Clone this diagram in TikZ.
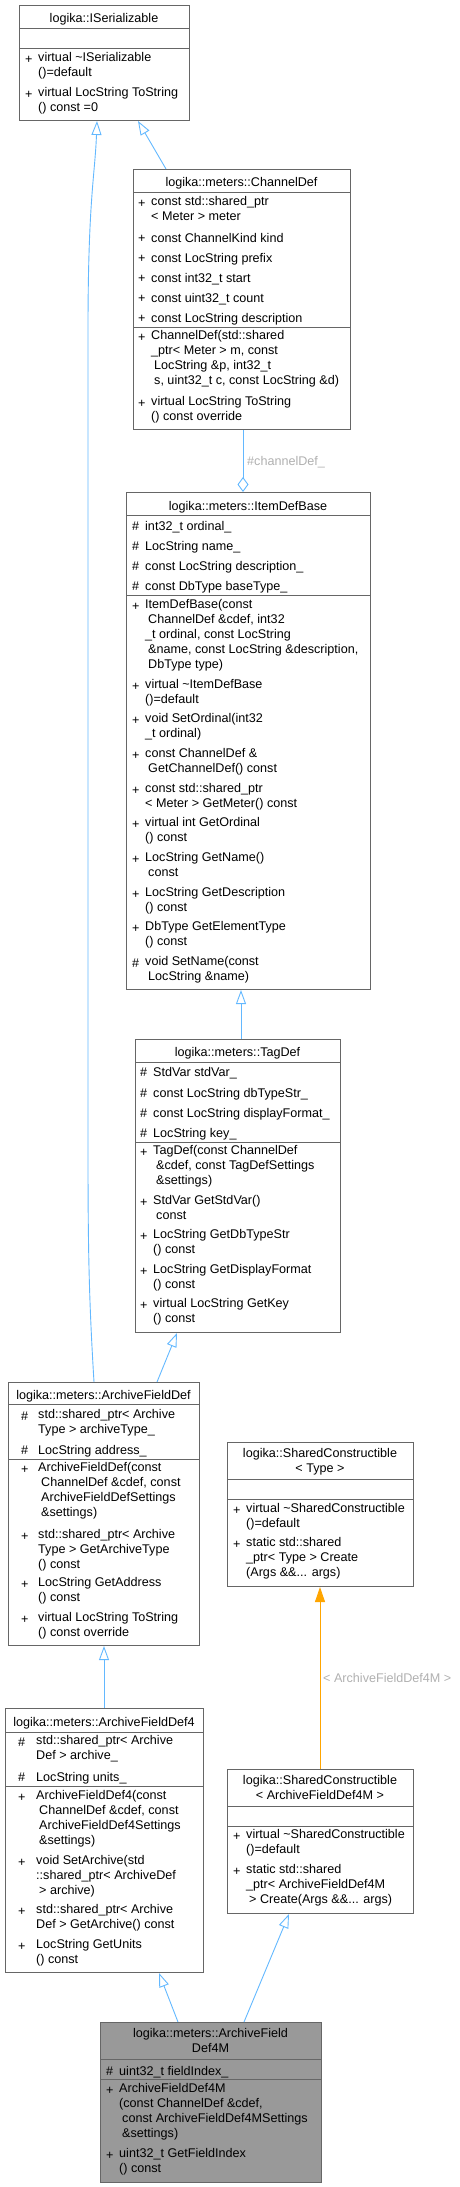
\documentclass[tikz,border=0pt]{standalone}
\usepackage{fontspec}
\setmainfont{Liberation Sans}
\usetikzlibrary{arrows.meta}
\definecolor{edgeblue}{HTML}{63B8FF}
\definecolor{boxgray}{HTML}{666666}
\definecolor{lblgray}{HTML}{B0B0B0}
\definecolor{tmplorange}{HTML}{FFA500}
\definecolor{leaffill}{HTML}{999999}
\begin{document}
\begin{tikzpicture}[x=1pt,y=-1pt,
  every node/.style={font=\fontsize{12.6}{15}\selectfont,inner sep=0pt},
  cls/.style={draw=boxgray,line width=1pt,fill=white,anchor=north west},
  title/.style={anchor=north,align=center,yshift=6.5pt,execute at begin node=\strut},
  mem/.style={anchor=north west,align=left,yshift=6.5pt,execute at begin node=\strut},
  sepline/.style={draw=boxgray,line width=1pt},
  inh/.style={draw=edgeblue,line width=0.9pt,-{Triangle[open,length=14pt,width=10pt]}},
  agg/.style={draw=edgeblue,line width=0.9pt,-{Diamond[open,length=15pt,width=11pt]}},
  tmpl/.style={draw=tmplorange,line width=0.9pt,-{Triangle[length=15pt,width=10pt]}},
  lbl/.style={anchor=west,text=lblgray}]
  \useasboundingbox (0,0) rectangle (460,2187);
  \node[cls,minimum width=170pt,minimum height=115pt] (iser) at (19,5) {};
  \node[cls,minimum width=217pt,minimum height=260pt] (chdef) at (133,169) {};
  \node[cls,minimum width=244pt,minimum height=497pt] (itemdef) at (126,492) {};
  \node[cls,minimum width=205pt,minimum height=293pt] (tagdef) at (135,1039) {};
  \node[cls,minimum width=191pt,minimum height=263pt] (afd) at (8,1382) {};
  \node[cls,minimum width=198pt,minimum height=264pt] (afd4) at (5,1708) {};
  \node[cls,minimum width=186pt,minimum height=144pt] (sct) at (227,1442) {};
  \node[cls,minimum width=186pt,minimum height=144pt] (scm) at (227,1769) {};
  \node[cls,fill=leaffill,minimum width=221pt,minimum height=160pt] (leaf) at (100,2022) {};
  \draw[sepline] (19,28) -- (189,28) (19,48) -- (189,48);
  \draw[sepline] (133,192) -- (350,192) (133,327) -- (350,327);
  \draw[sepline] (126,515) -- (370,515) (126,595) -- (370,595);
  \draw[sepline] (135,1062) -- (340,1062) (135,1142) -- (340,1142);
  \draw[sepline] (8,1404) -- (199,1404) (8,1459) -- (199,1459);
  \draw[sepline] (5,1732) -- (203,1732) (5,1786) -- (203,1786);
  \draw[sepline] (227,1479) -- (413,1479) (227,1499) -- (413,1499);
  \draw[sepline] (227,1806) -- (413,1806) (227,1826) -- (413,1826);
  \draw[sepline] (100,2059) -- (321,2059) (100,2079) -- (321,2079);
  \draw[inh] ([xshift=33pt]chdef.north west) -- ([xshift=119pt]iser.south west);
  \draw[inh] ([xshift=86pt]afd.north west) .. controls (89,1300) and (88,1250) .. (88,1150)
    -- (88,330) .. controls (88,200) and (95,175) .. ([xshift=78pt]iser.south west);
  \draw[agg] ([xshift=110pt]chdef.south west) -- ([xshift=117pt]itemdef.north west);
  \draw[inh] ([xshift=106pt]tagdef.north west) -- ([xshift=115pt]itemdef.south west);
  \draw[inh] ([xshift=149pt]afd.north west) -- ([xshift=42pt]tagdef.south west);
  \draw[inh] ([xshift=99pt]afd4.north west) -- ([xshift=96pt]afd.south west);
  \draw[inh] ([xshift=78pt]leaf.north west) -- ([xshift=154pt]afd4.south west);
  \draw[inh] ([xshift=144pt]leaf.north west) -- ([xshift=62pt]scm.south west);
  \draw[tmpl] ([xshift=93pt]scm.north west) -- ([xshift=93pt]sct.south west);
  \node[lbl] (chdef-lbl) at (247,462) {\#channelDef\_};
  \node[lbl] (scm-lbl) at (323,1678) {< ArchiveFieldDef4M >};
  \node[title] (iser-name) at (104,18) {logika::ISerializable};
  \node[mem] (iser-m1s) at (25,59) {+};
  \node[mem] (iser-m1) at (38,59) {virtual \textasciitilde ISerializable\\()=default};
  \node[mem] (iser-m2s) at (25,94) {+};
  \node[mem] (iser-m2) at (38,94) {virtual LocString ToString\\() const =0};
  \node[title] (chdef-name) at (241.5,182) {logika::meters::ChannelDef};
  \node[mem] (chdef-a1s) at (138,203) {+};
  \node[mem] (chdef-a1) at (151,203) {const std::shared\_ptr\\< Meter > meter};
  \node[mem] (chdef-a2s) at (138,238) {+};
  \node[mem] (chdef-a2) at (151,238) {const ChannelKind kind};
  \node[mem] (chdef-a3s) at (138,258) {+};
  \node[mem] (chdef-a3) at (151,258) {const LocString prefix};
  \node[mem] (chdef-a4s) at (138,278) {+};
  \node[mem] (chdef-a4) at (151,278) {const int32\_t start};
  \node[mem] (chdef-a5s) at (138,298) {+};
  \node[mem] (chdef-a5) at (151,298) {const uint32\_t count};
  \node[mem] (chdef-a6s) at (138,318) {+};
  \node[mem] (chdef-a6) at (151,318) {const LocString description};
  \node[mem] (chdef-m1s) at (138,337) {+};
  \node[mem] (chdef-m1) at (151,337) {ChannelDef(std::shared\\\_ptr< Meter > m, const\\\hspace*{3pt}LocString \&p, int32\_t\\\hspace*{3pt}s, uint32\_t c, const LocString \&d)};
  \node[mem] (chdef-m2s) at (138,403) {+};
  \node[mem] (chdef-m2) at (151,403) {virtual LocString ToString\\() const override};
  \node[title] (itemdef-name) at (248,506) {logika::meters::ItemDefBase};
  \node[mem] (itemdef-a1s) at (132,526) {\#};
  \node[mem] (itemdef-a1) at (145,526) {int32\_t ordinal\_};
  \node[mem] (itemdef-a2s) at (132,546) {\#};
  \node[mem] (itemdef-a2) at (145,546) {LocString name\_};
  \node[mem] (itemdef-a3s) at (132,566) {\#};
  \node[mem] (itemdef-a3) at (145,566) {const LocString description\_};
  \node[mem] (itemdef-a4s) at (132,586) {\#};
  \node[mem] (itemdef-a4) at (145,586) {const DbType baseType\_};
  \node[mem] (itemdef-m1s) at (132,606) {+};
  \node[mem] (itemdef-m1) at (145,606) {ItemDefBase(const\\\hspace*{3pt}ChannelDef \&cdef, int32\\\_t ordinal, const LocString\\\hspace*{3pt}\&name, const LocString \&description,\\\hspace*{3pt}DbType type)};
  \node[mem] (itemdef-m2s) at (132,686) {+};
  \node[mem] (itemdef-m2) at (145,686) {virtual \textasciitilde ItemDefBase\\()=default};
  \node[mem] (itemdef-m3s) at (132,720) {+};
  \node[mem] (itemdef-m3) at (145,720) {void SetOrdinal(int32\\\_t ordinal)};
  \node[mem] (itemdef-m4s) at (132,755) {+};
  \node[mem] (itemdef-m4) at (145,755) {const ChannelDef \&\\\hspace*{3pt}GetChannelDef() const};
  \node[mem] (itemdef-m5s) at (132,790) {+};
  \node[mem] (itemdef-m5) at (145,790) {const std::shared\_ptr\\< Meter > GetMeter() const};
  \node[mem] (itemdef-m6s) at (132,824) {+};
  \node[mem] (itemdef-m6) at (145,824) {virtual int GetOrdinal\\() const};
  \node[mem] (itemdef-m7s) at (132,859) {+};
  \node[mem] (itemdef-m7) at (145,859) {LocString GetName()\\\hspace*{3pt}const};
  \node[mem] (itemdef-m8s) at (132,894) {+};
  \node[mem] (itemdef-m8) at (145,894) {LocString GetDescription\\() const};
  \node[mem] (itemdef-m9s) at (132,928) {+};
  \node[mem] (itemdef-m9) at (145,928) {DbType GetElementType\\() const};
  \node[mem] (itemdef-m10s) at (132,963) {\#};
  \node[mem] (itemdef-m10) at (145,963) {void SetName(const\\\hspace*{3pt}LocString \&name)};
  \node[title] (tagdef-name) at (237.5,1052) {logika::meters::TagDef};
  \node[mem] (tagdef-a1s) at (140,1072) {\#};
  \node[mem] (tagdef-a1) at (153,1072) {StdVar stdVar\_};
  \node[mem] (tagdef-a2s) at (140,1093) {\#};
  \node[mem] (tagdef-a2) at (153,1093) {const LocString dbTypeStr\_};
  \node[mem] (tagdef-a3s) at (140,1113) {\#};
  \node[mem] (tagdef-a3) at (153,1113) {const LocString displayFormat\_};
  \node[mem] (tagdef-a4s) at (140,1133) {\#};
  \node[mem] (tagdef-a4) at (153,1133) {LocString key\_};
  \node[mem] (tagdef-m1s) at (140,1152) {+};
  \node[mem] (tagdef-m1) at (153,1152) {TagDef(const ChannelDef\\\hspace*{3pt}\&cdef, const TagDefSettings\\\hspace*{3pt}\&settings)};
  \node[mem] (tagdef-m2s) at (140,1202) {+};
  \node[mem] (tagdef-m2) at (153,1202) {StdVar GetStdVar()\\\hspace*{3pt}const};
  \node[mem] (tagdef-m3s) at (140,1236) {+};
  \node[mem] (tagdef-m3) at (153,1236) {LocString GetDbTypeStr\\() const};
  \node[mem] (tagdef-m4s) at (140,1271) {+};
  \node[mem] (tagdef-m4) at (153,1271) {LocString GetDisplayFormat\\() const};
  \node[mem] (tagdef-m5s) at (140,1305) {+};
  \node[mem] (tagdef-m5) at (153,1305) {virtual LocString GetKey\\() const};
  \node[title] (afd-name) at (103.5,1395) {logika::meters::ArchiveFieldDef};
  \node[mem] (afd-a1s) at (21,1416) {\#};
  \node[mem] (afd-a1) at (38,1416) {std::shared\_ptr< Archive\\Type > archiveType\_};
  \node[mem] (afd-a2s) at (21,1450) {\#};
  \node[mem] (afd-a2) at (38,1450) {LocString address\_};
  \node[mem] (afd-m1s) at (21,1469) {+};
  \node[mem] (afd-m1) at (38,1469) {ArchiveFieldDef(const\\\hspace*{3pt}ChannelDef \&cdef, const\\\hspace*{3pt}ArchiveFieldDefSettings\\\hspace*{3pt}\&settings)};
  \node[mem] (afd-m2s) at (21,1536) {+};
  \node[mem] (afd-m2) at (38,1536) {std::shared\_ptr< Archive\\Type > GetArchiveType\\() const};
  \node[mem] (afd-m3s) at (21,1584) {+};
  \node[mem] (afd-m3) at (38,1584) {LocString GetAddress\\() const};
  \node[mem] (afd-m4s) at (21,1619) {+};
  \node[mem] (afd-m4) at (38,1619) {virtual LocString ToString\\() const override};
  \node[title] (afd4-name) at (104,1722) {logika::meters::ArchiveFieldDef4};
  \node[mem] (afd4-a1s) at (18,1742) {\#};
  \node[mem] (afd4-a1) at (36,1742) {std::shared\_ptr< Archive\\Def > archive\_};
  \node[mem] (afd4-a2s) at (18,1777) {\#};
  \node[mem] (afd4-a2) at (36,1777) {LocString units\_};
  \node[mem] (afd4-m1s) at (18,1797) {+};
  \node[mem] (afd4-m1) at (36,1797) {ArchiveFieldDef4(const\\\hspace*{3pt}ChannelDef \&cdef, const\\\hspace*{3pt}ArchiveFieldDef4Settings\\\hspace*{3pt}\&settings)};
  \node[mem] (afd4-m2s) at (18,1862) {+};
  \node[mem] (afd4-m2) at (36,1862) {void SetArchive(std\\::shared\_ptr< ArchiveDef\\\hspace*{3pt}> archive)};
  \node[mem] (afd4-m3s) at (18,1911) {+};
  \node[mem] (afd4-m3) at (36,1911) {std::shared\_ptr< Archive\\Def > GetArchive() const};
  \node[mem] (afd4-m4s) at (18,1946) {+};
  \node[mem] (afd4-m4) at (36,1946) {LocString GetUnits\\() const};
  \node[title] (sct-name) at (320,1455) {logika::SharedConstructible\\< Type >};
  \node[mem] (sct-m1s) at (233,1510) {+};
  \node[mem] (sct-m1) at (246,1510) {virtual \textasciitilde SharedConstructible\\()=default};
  \node[mem] (sct-m2s) at (233,1544) {+};
  \node[mem] (sct-m2) at (246,1544) {static std::shared\\\_ptr< Type > Create\\(Args \&\&... args)};
  \node[title] (scm-name) at (320,1782) {logika::SharedConstructible\\< ArchiveFieldDef4M >};
  \node[mem] (scm-m1s) at (233,1836) {+};
  \node[mem] (scm-m1) at (246,1836) {virtual \textasciitilde SharedConstructible\\()=default};
  \node[mem] (scm-m2s) at (233,1871) {+};
  \node[mem] (scm-m2) at (246,1871) {static std::shared\\\_ptr< ArchiveFieldDef4M\\\hspace*{3pt}> Create(Args \&\&... args)};
  \node[title] (leaf-name) at (210.5,2035) {logika::meters::ArchiveField\\Def4M};
  \node[mem] (leaf-a1s) at (106,2071) {\#};
  \node[mem] (leaf-a1) at (119,2071) {uint32\_t fieldIndex\_};
  \node[mem] (leaf-m1s) at (106,2090) {+};
  \node[mem] (leaf-m1) at (119,2090) {ArchiveFieldDef4M\\(const ChannelDef \&cdef,\\\hspace*{3pt}const ArchiveFieldDef4MSettings\\\hspace*{3pt}\&settings)};
  \node[mem] (leaf-m2s) at (106,2155) {+};
  \node[mem] (leaf-m2) at (119,2155) {uint32\_t GetFieldIndex\\() const};
\end{tikzpicture}
\end{document}
